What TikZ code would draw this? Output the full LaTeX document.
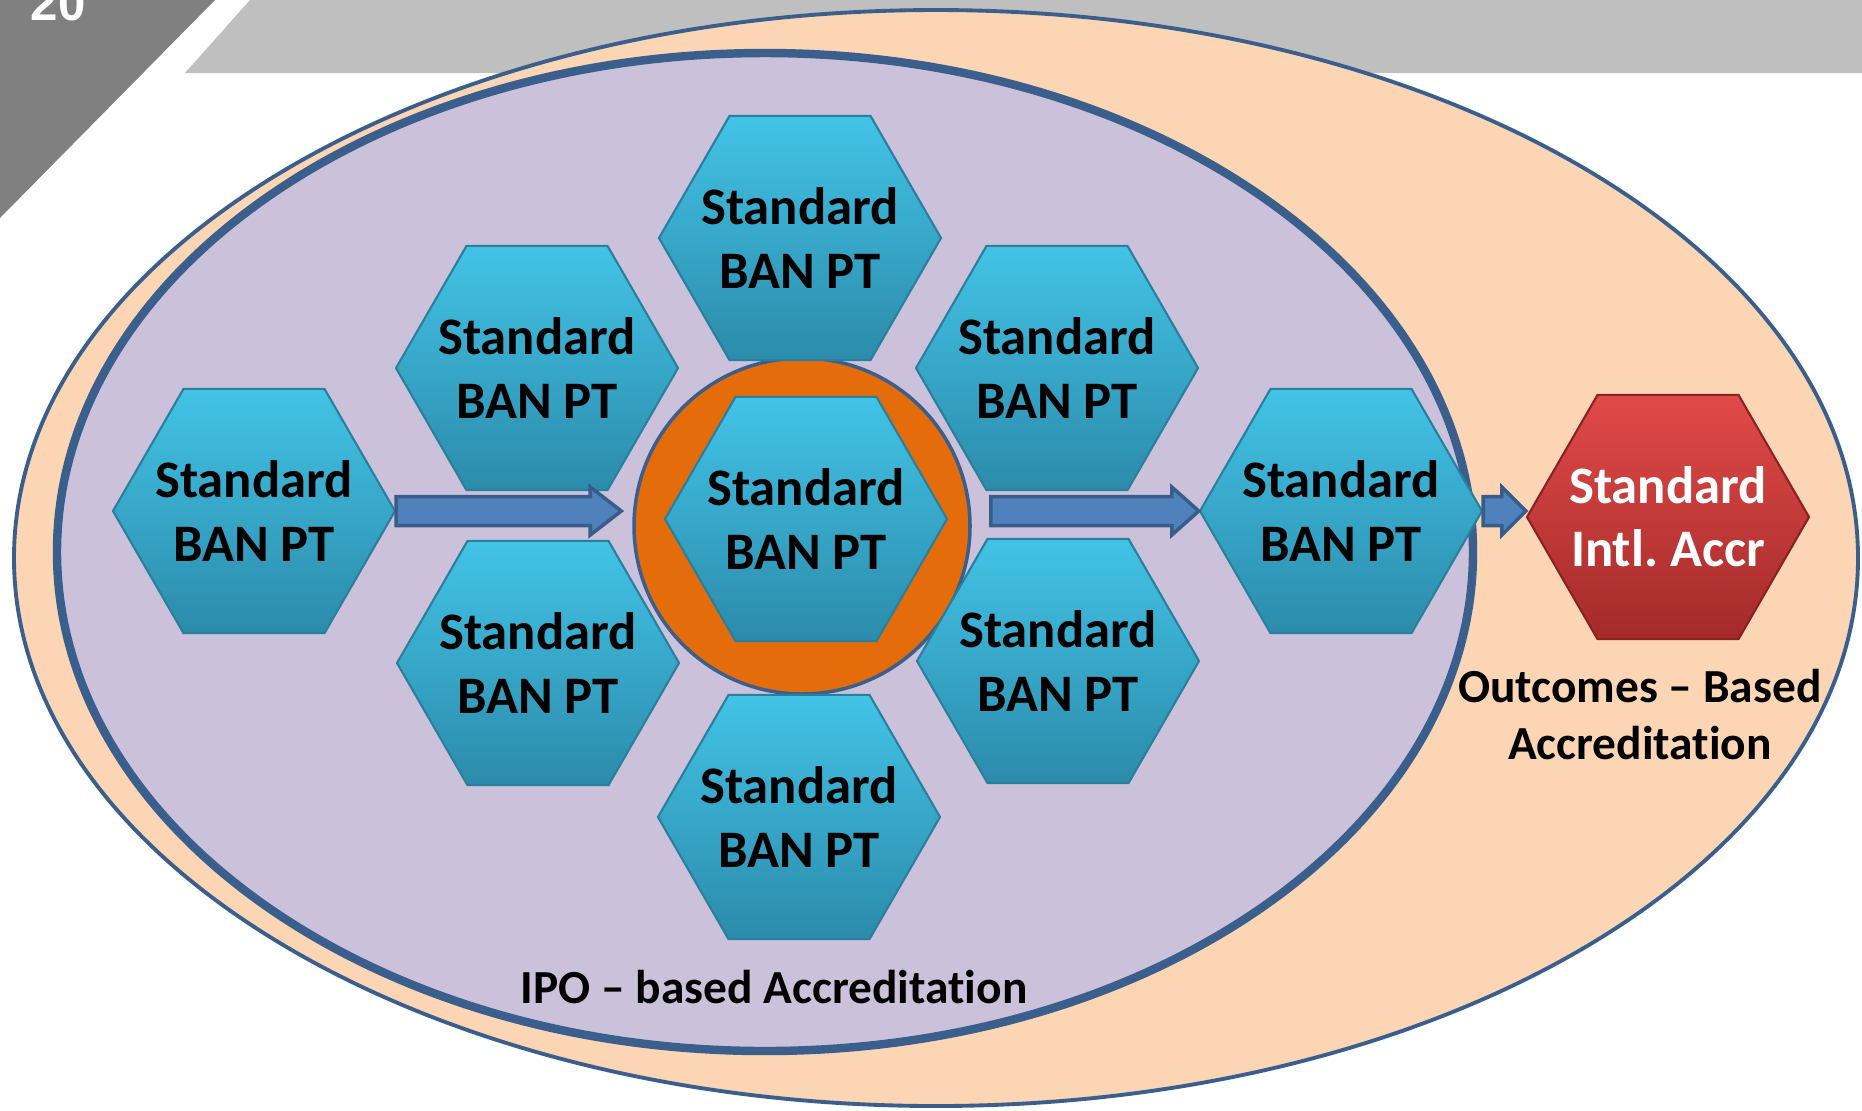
\documentclass[tikz,border=0pt]{standalone}
\usepackage{fontspec}
\setmainfont{Carlito}[Ligatures={TeX,NoCommon}]
\newfontfamily\numfont{Liberation Sans}
\usetikzlibrary{calc, positioning, shapes.geometric}

\definecolor{peach}{HTML}{FCD5B5}
\definecolor{lavender}{HTML}{CCC1DA}
\definecolor{zoneblue}{HTML}{3A5F8C}
\definecolor{bardark}{HTML}{808080}
\definecolor{barlight}{HTML}{BFBFBF}
\definecolor{ringorange}{HTML}{E46C0A}
\definecolor{arrowfill}{HTML}{4F81BD}
\definecolor{arrowline}{HTML}{385D8A}
\definecolor{hextop}{HTML}{42C3E6}
\definecolor{hexbot}{HTML}{2C8BAB}
\definecolor{hexline}{HTML}{2A7F9C}
\definecolor{redtop}{HTML}{E04A48}
\definecolor{redbot}{HTML}{A42A2A}
\definecolor{redline}{HTML}{8A2222}

% horizontal block arrow: [head length]{start}{tip}, drawn at the height of start
\newcommand{\blockarrow}[3][0.28]{%
  \draw[barrow] let \p1=(#2), \p2=(#3) in
    (\x1,\y1+1.45mm) -- (\x2-#1cm,\y1+1.45mm) -- (\x2-#1cm,\y1+2.4mm) -- (\x2,\y1)
    -- (\x2-#1cm,\y1-2.4mm) -- (\x2-#1cm,\y1-1.45mm) -- (\x1,\y1-1.45mm) -- cycle;}

\begin{document}
\frenchspacing
\begin{tikzpicture}[
  hex/.style={regular polygon, regular polygon sides=6, shape border rotate=0,
    minimum size=2.82cm, inner sep=0pt, draw=hexline, line width=0.6pt,
    top color=hextop, bottom color=hexbot},
  hextext/.style={align=center, inner sep=0pt, font=\fontsize{15}{18}\selectfont\bfseries},
  redhex/.style={draw=redline, top color=redtop, bottom color=redbot},
  zonelabel/.style={align=center, inner sep=0pt, font=\fontsize{13.5}{16.2}\selectfont\bfseries},
  barrow/.style={fill=arrowfill, draw=arrowline, line width=1pt, line join=miter},
  ring/.style={circle, minimum size=3.36cm, fill=ringorange, draw=zoneblue, line width=1pt}
]
\useasboundingbox (0,0) rectangle (18.62,-11.10);
\clip (0,0) rectangle (18.62,-11.10);

% slide header
\fill[barlight] (2.50,0) -- (18.62,0) -- (18.62,-0.73) -- (1.85,-0.73) -- cycle;
\fill[bardark] (0,0) -- (2.15,0) -- (0,-2.18) -- cycle;
\node[anchor=base west, inner sep=0pt, text=white, font=\numfont\bfseries\fontsize{14}{16}\selectfont] (pagenum) at (0.30,-0.20) {20};

% accreditation zones
\draw[fill=peach, draw=zoneblue, line width=1.1pt] (9.36,-5.58) ellipse [x radius=9.22, y radius=5.48];
\draw[fill=lavender, draw=zoneblue, line width=2.4pt] (7.65,-5.52) ellipse [x radius=7.08, y radius=4.99];
\node[ring] (ring) at (8.02,-5.26) {};

% standards
\node[hex, label={[hextext]center:Standard\\BAN PT}] (hl) at (2.54,-5.11) {};
\node[hex, label={[hextext]center:Standard\\BAN PT}] (hul) at (5.37,-3.68) {};
\node[hex, label={[hextext]center:Standard\\BAN PT}] (ht) at (8.00,-2.38) {};
\node[hex, label={[hextext]center:Standard\\BAN PT}] (hur) at (10.57,-3.68) {};
\node[hex, label={[hextext]center:Standard\\BAN PT}] (hc) at (8.06,-5.19) {};
\node[hex, label={[hextext]center:Standard\\BAN PT}] (hll) at (5.38,-6.63) {};
\node[hex, label={[hextext]center:Standard\\BAN PT}] (hlr) at (10.58,-6.61) {};
\node[hex, label={[hextext]center:Standard\\BAN PT}] (hb) at (7.99,-8.17) {};
\node[hex, label={[hextext]center:Standard\\BAN PT}] (hr) at (13.41,-5.11) {};
\node[hex, redhex, label={[hextext, text=white]center:Standard\\Intl. Accr}] (intl) at (16.68,-5.17) {};

% flow
\blockarrow[0.31]{hl.east}{$(ring.west)+(-0.11,0)$}
\blockarrow[0.27]{$(ring.east |- hr.west)+(0.19,0)$}{hr.west}
\blockarrow[0.24]{hr.east}{intl.west}

% zone names
\node[zonelabel, below=0.29cm of hb, xshift=-0.25cm] (ipolbl) {IPO – based Accreditation};
\node[zonelabel, below=0.28cm of intl, xshift=-0.28cm] (obelbl) {Outcomes – Based\\Accreditation};
\end{tikzpicture}
\end{document}
